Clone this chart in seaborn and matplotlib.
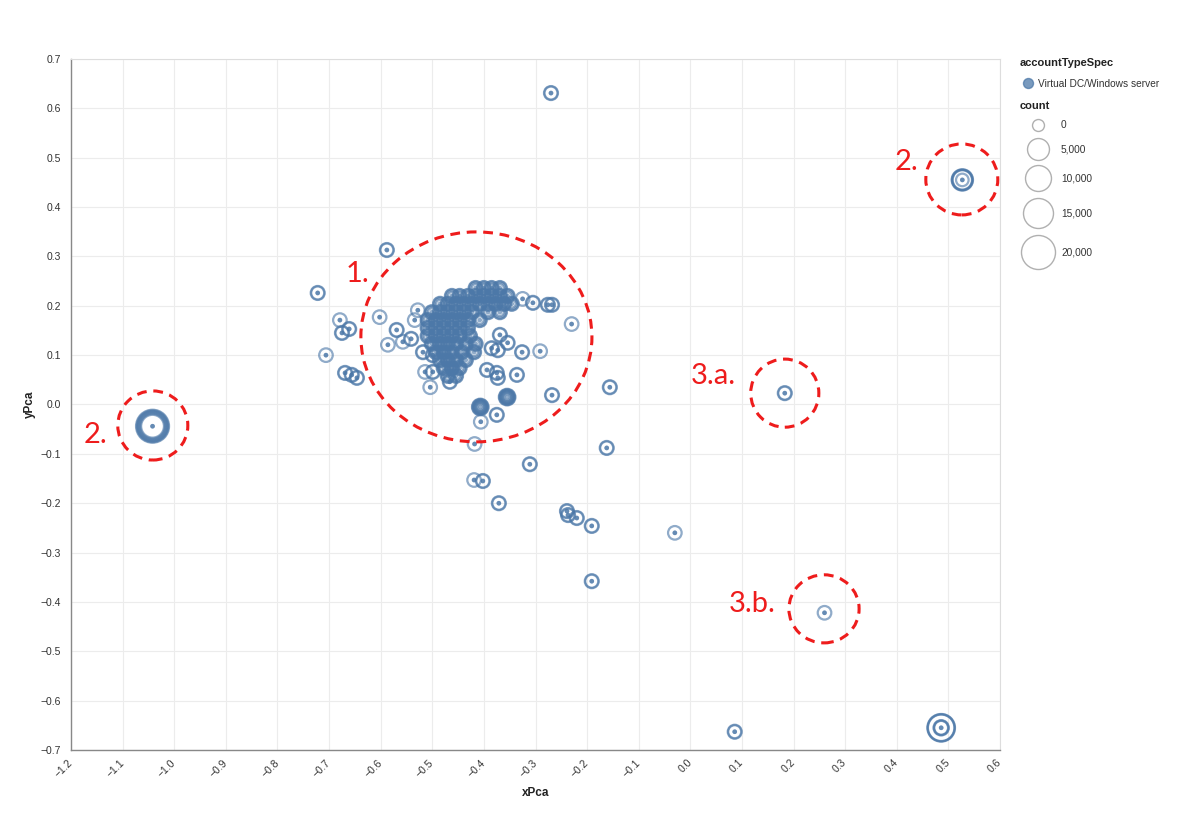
import numpy as np
import pandas as pd
import matplotlib
matplotlib.use("Agg")
import matplotlib.pyplot as plt
import seaborn as sns
from matplotlib.patches import Ellipse

sns.set_theme(style="white")
plt.rcParams["font.family"] = ["Liberation Sans", "DejaVu Sans"]

# ---------------- data ----------------
category = "Virtual DC/Windows server"

# points drawn with two overlapping rings (dark look)
dark_x = [-0.270, -0.588, -0.722, 0.183, -0.569, -0.541, -0.518, -0.499, -0.499, -0.466,
          -0.369, -0.354, -0.385, -0.373, -0.326, -0.336, -0.394, -0.375, -0.373, -0.305,
          -0.276, -0.268, -0.675, -0.661, -0.669, -0.656, -0.646, -0.375, -0.268, -0.156,
          -0.162, -0.311, -0.402, -0.371, -0.239, -0.237, -0.220, -0.191, -0.191, 0.086]
dark_y = [0.631, 0.313, 0.226, 0.023, 0.151, 0.133, 0.106, 0.100, 0.066, 0.046,
          0.141, 0.125, 0.114, 0.110, 0.106, 0.060, 0.070, 0.064, 0.054, 0.206,
          0.202, 0.202, 0.145, 0.153, 0.064, 0.060, 0.054, -0.021, 0.019, 0.035,
          -0.088, -0.121, -0.155, -0.200, -0.216, -0.224, -0.230, -0.246, -0.358, -0.663]
dark_counts = [0, 0, 3000, 3500]

# points with a single ring (light look)
light_x = [-0.504, -0.406, -0.418, -0.419, -0.030, -0.602, -0.586, -0.557, -0.528, -0.534,
           -0.514, -0.291, -0.325, -0.230, -0.679, -0.706, 0.260]
light_y = [0.035, -0.035, -0.080, -0.153, -0.260, 0.177, 0.121, 0.127, 0.191, 0.171,
           0.066, 0.108, 0.214, 0.163, 0.171, 0.100, -0.422]
light_counts = [0, 0, 3300]

# dense core of cluster 1
blob_x = [-0.416, -0.400, -0.385, -0.369,
          -0.462, -0.447, -0.431, -0.416, -0.400, -0.385, -0.369, -0.354,
          -0.485, -0.470, -0.454, -0.439, -0.423, -0.408, -0.392, -0.377, -0.361, -0.346,
          -0.501, -0.485, -0.470, -0.454, -0.439, -0.423, -0.392, -0.369,
          -0.509, -0.493, -0.478, -0.462, -0.447, -0.431, -0.408,
          -0.509, -0.493, -0.478, -0.462, -0.447, -0.431,
          -0.509, -0.493, -0.478, -0.462, -0.447, -0.427,
          -0.501, -0.485, -0.470, -0.454, -0.435, -0.416,
          -0.493, -0.478, -0.462, -0.443, -0.419,
          -0.485, -0.470, -0.454, -0.435,
          -0.478, -0.462, -0.447,
          -0.470, -0.454]
blob_y = [0.236] * 4 + [0.220] * 8 + [0.204] * 10 + [0.187] * 8 + [0.171] * 7 + \
         [0.155] * 6 + [0.139] * 6 + [0.123] * 6 + [0.106] * 5 + [0.090] * 4 + \
         [0.074] * 3 + [0.058] * 2
blob_counts = [0, 1000, 2000, 3000, 3500]

# locations holding many records of different counts (concentric rings)
special_x = [-1.042, 0.527, 0.486, -0.407, -0.355]
special_y = [-0.044, 0.455, -0.655, -0.005, 0.015]
special_counts = [
    [0, 0, 9500, 11000, 12500, 14000, 15500, 17000, 18500, 20000],
    [0, 0, 2800, 6800, 7300, 7800, 8300],
    [0, 0, 3400, 3800, 4200, 12800, 13400, 14000],
    [0, 500, 1000, 1500, 2000, 2500, 3000, 3500, 4000, 4500, 5000],
    [0, 500, 1000, 1500, 2000, 2500, 3000, 3500, 4000, 4500, 5000],
]

x_ticks = [-1.2, -1.1, -1.0, -0.9, -0.8, -0.7, -0.6, -0.5, -0.4, -0.3, -0.2, -0.1,
           0.0, 0.1, 0.2, 0.3, 0.4, 0.5, 0.6]
y_ticks = [-0.7, -0.6, -0.5, -0.4, -0.3, -0.2, -0.1, 0.0, 0.1, 0.2, 0.3, 0.4, 0.5, 0.6, 0.7]
legend_counts = ["0", "5,000", "10,000", "15,000", "20,000"]

# annotations
ann_labels = ["1.", "2.", "2.", "3.a.", "3.b."]
ann_text_x = [-0.645, -1.152, 0.418, 0.044, 0.119]
ann_text_y = [0.248, -0.078, 0.475, 0.0415, -0.420]
ring_cx = [-0.4145, -1.0415, 0.526, 0.183, 0.259]
ring_cy = [0.137, -0.0425, 0.456, 0.023, -0.414]
ring_w = [0.4477, 0.1357, 0.1395, 0.132, 0.136]
ring_h = [0.4254, 0.140, 0.1438, 0.138, 0.138]

# ---------------- build long table ----------------
rows = []
for xs, ys, cs in [(dark_x, dark_y, dark_counts), (light_x, light_y, light_counts),
                   (blob_x, blob_y, blob_counts)]:
    for x, y in zip(xs, ys):
        for c in cs:
            rows.append((x, y, c))
for x, y, cs in zip(special_x, special_y, special_counts):
    for c in cs:
        rows.append((x, y, c))
df = pd.DataFrame(rows, columns=["xPca", "yPca", "count"])
df["accountTypeSpec"] = category

BLUE = "#4c78a8"
RED = "#ee1c1c"

W, H = 1200, 821
fig = plt.figure(figsize=(W / 100, H / 100), dpi=100)
ax = fig.add_axes([71 / W, 1 - 750 / H, 929 / W, 691 / H])

sns.scatterplot(data=df, x="xPca", y="yPca", size="count", sizes=(3, 564),
                size_norm=(0, 20000), legend=False, ax=ax, color=BLUE, zorder=3)
coll = ax.collections[0]
coll.set_facecolor("none")
coll.set_edgecolor(BLUE)
coll.set_linewidth(1.6)
coll.set_alpha(0.62)

ax.set_xlim(-1.2, 0.6)
ax.set_ylim(-0.7, 0.7)


def fmt(v):
    s = f"{v:.1f}"
    if s == "-0.0":
        s = "0.0"
    return s.replace("-", "\u2212")


ax.set_xticks(x_ticks)
ax.set_xticklabels([fmt(v) for v in x_ticks], rotation=45, ha="right",
                   va="center", rotation_mode="anchor")
ax.set_yticks(y_ticks)
ax.set_yticklabels([fmt(v) for v in y_ticks])
ax.tick_params(axis="both", direction="out", length=4, width=0.9, color="#888888",
               labelsize=7.5, labelcolor="#333333")
ax.tick_params(axis="x", pad=4)
ax.tick_params(axis="y", pad=3)
ax.grid(True, color="#ececec", linewidth=0.8)
ax.set_axisbelow(True)
for side in ["left", "bottom"]:
    ax.spines[side].set_color("#888888")
    ax.spines[side].set_linewidth(1.0)
for side in ["top", "right"]:
    ax.spines[side].set_color("#dddddd")
    ax.spines[side].set_linewidth(0.8)

ax.set_xlabel("xPca", fontsize=8.5, fontweight="bold", color="#222222")
ax.set_ylabel("yPca", fontsize=8.5, fontweight="bold", color="#222222")
ax.xaxis.set_label_coords(0.5, (750 - 793) / 691)
ax.xaxis.label.set_va("center")
ax.yaxis.set_label_coords((30 - 71) / 929, 0.5)
ax.yaxis.label.set_va("center")

# red annotations
for cx, cy, w, h in zip(ring_cx, ring_cy, ring_w, ring_h):
    ax.add_patch(Ellipse((cx, cy), w, h, fill=False, edgecolor=RED, linewidth=2.2,
                         linestyle=(0, (3.2, 2.2)), zorder=5))
for t, tx, ty in zip(ann_labels, ann_text_x, ann_text_y):
    ax.text(tx, ty, t, color=RED, fontsize=21, ha="center", va="baseline",
            family=["Lato", "DejaVu Sans"], zorder=6)

# legend (pixel-space helper axes)
lax = fig.add_axes([1005 / W, 1 - 280 / H, 195 / W, 230 / H])
lax.set_xlim(1005, 1200)
lax.set_ylim(280, 50)
lax.axis("off")
lax.text(1020, 63, "accountTypeSpec", fontsize=8, fontweight="bold", va="center",
         ha="left", color="#222222")
lax.plot([1028], [83], marker="o", markersize=7.2, color=BLUE, alpha=0.75,
         linestyle="none")
lax.text(1038, 83.5, category, fontsize=7.3, va="center", ha="left", color="#333333")
lax.text(1020, 106, "count", fontsize=8, fontweight="bold", va="center", ha="left",
         color="#222222")
leg_y = [125, 149, 178, 213, 252]
leg_ms = [8.6, 15.8, 18.7, 21.6, 24.5]
for lbl, yy, ms in zip(legend_counts, leg_y, leg_ms):
    lax.plot([1038], [yy], marker="o", markersize=ms, markerfacecolor="none",
             markeredgecolor="#b0b0b0", markeredgewidth=1.0, linestyle="none")
    lax.text(1061, yy, lbl, fontsize=7.3, va="center", ha="left", color="#333333")

fig.savefig("out.png", dpi=100, facecolor="white")
